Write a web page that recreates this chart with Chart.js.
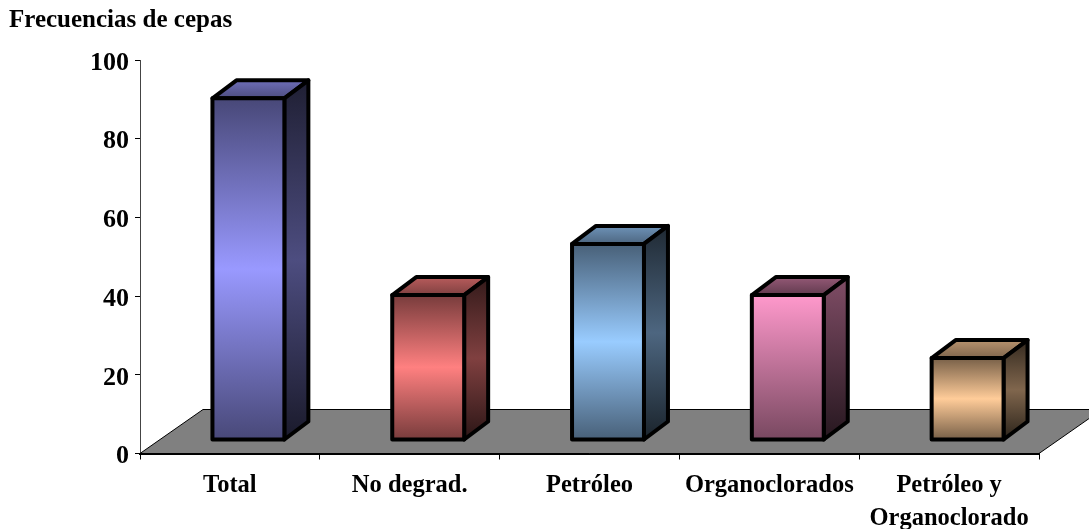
<!DOCTYPE html>
<html>

<head>
  <meta charset="utf-8">
  <title>Frecuencias de cepas</title>
  <script src="https://cdn.jsdelivr.net/npm/chart.js"></script>
  <style>
    html, body { margin: 0; background: #fff; }
    #wrap { width: 1089px; height: 529px; }
  </style>
</head>

<body>
  <div id="wrap"><canvas id="cepasChart"></canvas></div>
  <script>
    const categories = ['Total', 'No degrad.', 'Petróleo', 'Organoclorados', ['Petróleo y', 'Organoclorado']];
    const frecuencias = [90, 40, 53, 40, 24];
    const yTicks = [0, 20, 40, 60, 80, 100];
    const barColors = [[153, 153, 255], [255, 128, 128], [153, 204, 255], [255, 153, 204], [255, 204, 153]];

    const serif = '"Liberation Serif", "Times New Roman", serif';

    function shade(rgb, f) {
      return `rgb(${rgb.map(c => Math.round(c * f)).join(',')})`;
    }

    // vertical shading, stops given as brightness factors from top to bottom
    function faceGradient(ctx, y0, y1, rgb, stops) {
      const g = ctx.createLinearGradient(0, y0, 0, y1);
      stops.forEach((f, i) => g.addColorStop(i / (stops.length - 1), shade(rgb, f)));
      return g;
    }

    function poly(ctx, pts, fill) {
      ctx.beginPath();
      pts.forEach((p, i) => i ? ctx.lineTo(p[0], p[1]) : ctx.moveTo(p[0], p[1]));
      ctx.closePath();
      ctx.fillStyle = fill;
      ctx.fill();
      ctx.stroke();
    }

    const box3d = {
      id: 'box3d',
      // grey floor under the columns
      beforeDatasetsDraw(chart) {
        const { ctx, chartArea: a } = chart;
        ctx.save();
        ctx.lineWidth = 1;
        ctx.strokeStyle = '#000';
        poly(ctx, [[a.left, a.bottom], [a.right, a.bottom], [a.right + 63, a.bottom - 44], [a.left + 63, a.bottom - 44]], '#808080');
        ctx.restore();
      },
      afterDatasetsDraw(chart) {
        const ctx = chart.ctx;
        const dx = 24, dy = 18;
        ctx.save();
        ctx.lineWidth = 4;
        ctx.lineJoin = 'round';
        ctx.strokeStyle = '#000';
        chart.getDatasetMeta(0).data.forEach((bar, i) => {
          const rgb = barColors[i];
          const l = bar.x - bar.width / 2 + 18.5;
          const r = l + bar.width;
          const t = bar.y - 1;
          const b = bar.base - 13.5;
          // the pink column fades downwards only, the others are brightest mid height
          const front = i === 3 ? [1, 0.47] : [0.47, 1, 0.47];
          const side = i === 3 ? [0.5, 0.15] : [0.2, 0.5, 0.17];
          const lid = i === 3 ? [0.58, 0.38] : [0.72, 0.5];
          poly(ctx, [[l, t], [l + dx, t - dy], [r + dx, t - dy], [r, t]], faceGradient(ctx, t - dy, t, rgb, lid));
          poly(ctx, [[r, t], [r + dx, t - dy], [r + dx, b - dy], [r, b]], faceGradient(ctx, t - dy, b, rgb, side));
          poly(ctx, [[l, t], [r, t], [r, b], [l, b]], faceGradient(ctx, t, b, rgb, front));
        });
        ctx.restore();
      }
    };

    new Chart(document.getElementById('cepasChart'), {
      type: 'bar',
      data: {
        labels: categories,
        datasets: [{
          label: 'Frecuencias de cepas',
          data: frecuencias,
          backgroundColor: 'transparent',
          categoryPercentage: 1,
          barPercentage: 0.4,
        }]
      },
      options: {
        responsive: true,
        maintainAspectRatio: false,
        animation: false,
        layout: { padding: { left: 9, right: 50, top: 0, bottom: 0 } },
        plugins: {
          legend: { display: false },
          tooltip: { enabled: false },
          title: {
            display: true,
            text: 'Frecuencias de cepas',
            align: 'start',
            color: '#000',
            font: { family: serif, size: 25, weight: 'bold', lineHeight: 1.2 },
            padding: { top: 6, bottom: 24 },
          },
        },
        scales: {
          x: {
            grid: { drawOnChartArea: false, color: '#000', tickLength: 6 },
            border: { color: '#000', width: 2 },
            ticks: { color: '#000', font: { family: serif, size: 24.5, weight: 'bold', lineHeight: 1.35 }, maxRotation: 0, autoSkip: false, padding: 10 },
            afterFit(scale) { scale.height = 75.5; },
          },
          y: {
            min: 0,
            max: 100,
            afterBuildTicks(scale) { scale.ticks = yTicks.map(v => ({ value: v })); },
            grid: { drawOnChartArea: false, color: '#000', tickLength: 5 },
            border: { color: '#444', width: 1 },
            ticks: { color: '#000', font: { family: serif, size: 26, weight: 'bold' }, padding: 6, labelOffset: 3 },
            afterFit(scale) { scale.width = 131; },
          },
        },
      },
      plugins: [box3d],
    });
  </script>
</body>

</html>
